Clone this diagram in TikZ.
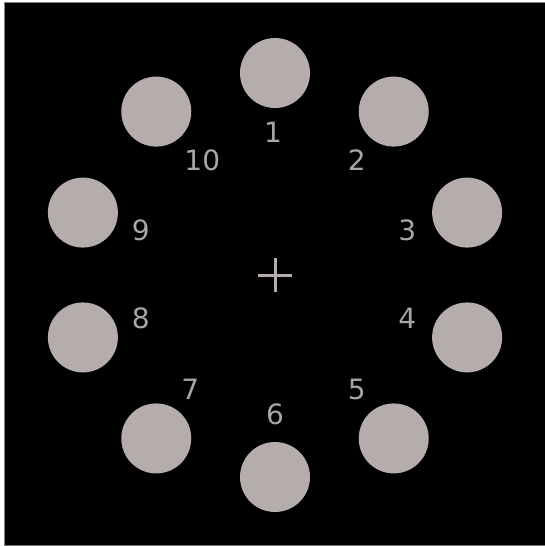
\documentclass[tikz,border=0pt]{standalone}
\usepackage{fontspec}
\setmainfont{DejaVu Sans}
\usetikzlibrary{calc}

\definecolor{holegray}{RGB}{181,173,171}
\definecolor{labelgray}{RGB}{168,166,165}

\begin{document}
\begin{tikzpicture}[x=1pt, y=-1pt,
    hole/.style={circle, fill=holegray, inner sep=0pt, minimum size=70pt},
    holelabel/.style={text=labelgray, inner sep=0pt, font=\fontsize{28}{30}\selectfont},
    cross/.style={draw=holegray, line width=3pt}
]
    \useasboundingbox (0,0) rectangle (545,546);
    \fill[black, draw=gray, line width=0.8pt] (4,2) rectangle (545,545);

    \coordinate (centre) at (275,275);

    % holes and their numbers, clockwise from the top
    \foreach \i/\dx/\dy in {1/-2/-4, 2/0/-2, 3/0/-2, 4/0/0, 5/0/2, 6/0/0, 7/-3/2, 8/-2/0, 9/-2/-2, 10/9/-2} {
        \pgfmathsetmacro{\ang}{36*(\i-1)-90}
        \node[hole] (hole\i) at ($(centre)+(\ang:202)$) {};
        \node[holelabel] (label\i) at ($(centre)+(\ang:139)+(\dx,\dy)$) {\i};
    }

    \draw[cross] ($(centre)+(-17,0)$) -- ($(centre)+(17,0)$);
    \draw[cross] ($(centre)+(0,-17)$) -- ($(centre)+(0,17)$);

\end{tikzpicture}
\end{document}
